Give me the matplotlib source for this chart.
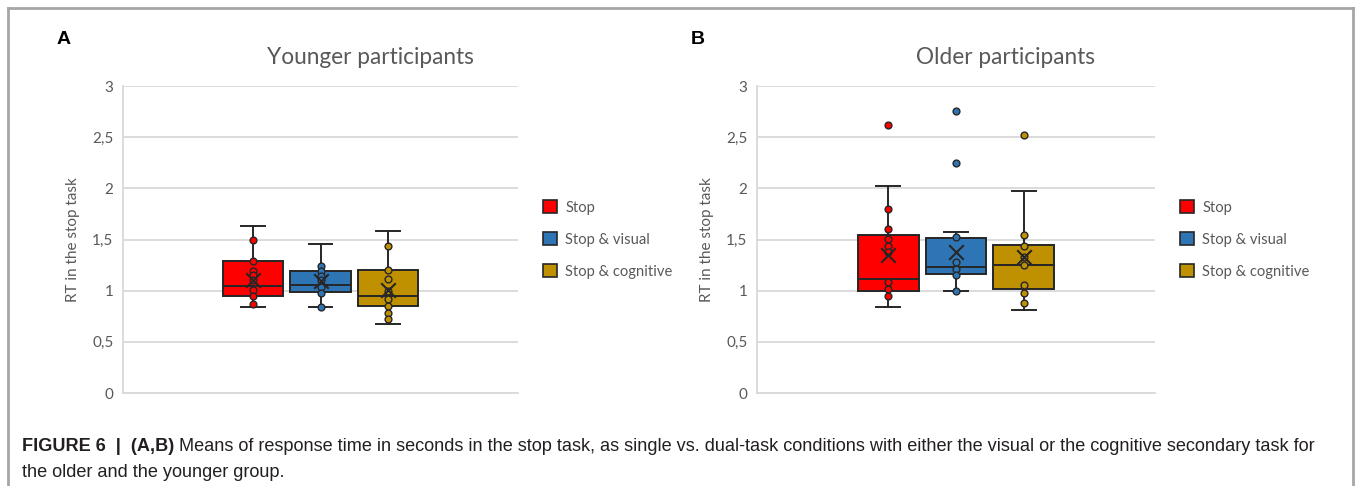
"""
Figure 6: stop-task response times, younger vs older participants.
Excel-style box plots with inner points, mean markers and outliers.
"""
import matplotlib
matplotlib.use("Agg")
import matplotlib.pyplot as plt
from matplotlib.patches import Patch
from matplotlib.lines import Line2D

CONDITIONS = ["Stop", "Stop & visual", "Stop & cognitive"]
COLORS = ["#ff0000", "#2e75b6", "#bf9000"]
Y_TICKS = [0, 0.5, 1, 1.5, 2, 2.5, 3]
Y_TICK_LABELS = ["0", "0,5", "1", "1,5", "2", "2,5", "3"]

# younger participants
young_q1 = [0.945, 0.987, 0.847]
young_med = [1.043, 1.055, 0.948]
young_q3 = [1.29, 1.19, 1.205]
young_lo = [0.84, 0.845, 0.677]
young_hi = [1.63, 1.46, 1.586]
young_mean = [1.10, 1.094, 1.006]
young_points = [
    [1.50, 1.29, 1.19, 1.15, 1.10, 1.01, 0.95, 0.87],
    [1.24, 1.19, 1.14, 1.10, 1.04, 0.98, 0.845],
    [1.44, 1.205, 1.114, 0.997, 0.916, 0.85, 0.785, 0.72],
]
young_outliers = [[], [], []]

# older participants
old_q1 = [0.997, 1.166, 1.019]
old_med = [1.114, 1.231, 1.251]
old_q3 = [1.547, 1.518, 1.45]
old_lo = [0.84, 0.997, 0.814]
old_hi = [2.026, 1.57, 1.97]
old_mean = [1.346, 1.381, 1.332]
old_points = [
    [1.80, 1.60, 1.505, 1.44, 1.375, 1.088, 1.019, 0.948],
    [1.52, 1.277, 1.209, 1.15, 1.0],
    [1.544, 1.436, 1.33, 1.25, 1.058, 0.98, 0.877],
]
old_outliers = [[2.62], [2.76, 2.248], [2.524]]

EDGE = "#262626"
GRID = "#d9d9d9"
TEXT_GRAY = "#595959"
CHART_FONT = ["Lato", "DejaVu Sans"]
CAPTION_FONT = ["Liberation Sans", "DejaVu Sans"]


def draw_panel(ax, q1, med, q3, lo, hi, mean, points, outliers):
    positions = [0.5 - 0.17, 0.5, 0.5 + 0.17]
    stats = []
    for i in range(3):
        stats.append({"med": med[i], "q1": q1[i], "q3": q3[i],
                      "whislo": lo[i], "whishi": hi[i], "mean": mean[i],
                      "fliers": []})
    bp = ax.bxp(stats, positions=positions, widths=0.152, patch_artist=True,
                showmeans=False, showfliers=False, manage_ticks=False,
                boxprops=dict(edgecolor=EDGE, linewidth=1.4),
                medianprops=dict(color=EDGE, linewidth=1.4),
                whiskerprops=dict(color=EDGE, linewidth=1.4),
                capprops=dict(color=EDGE, linewidth=1.4),
                capwidths=0.06)
    for patch, c in zip(bp["boxes"], COLORS):
        patch.set_facecolor(c)
        patch.set_zorder(2)
    for i, x in enumerate(positions):
        pts = points[i] + outliers[i]
        ax.scatter([x] * len(pts), pts, s=24, facecolor=COLORS[i],
                   edgecolor=EDGE, linewidth=1.0, zorder=4)
        ax.scatter([x], [mean[i]], marker="x", s=110, color=EDGE,
                   linewidth=1.5, zorder=5)

    ax.set_xlim(0, 1)
    ax.set_ylim(0, 3)
    ax.set_yticks(Y_TICKS)
    ax.set_yticklabels(Y_TICK_LABELS, family=CHART_FONT, fontsize=11,
                       color=TEXT_GRAY)
    ax.set_xticks([])
    ax.tick_params(axis="y", length=0, pad=7)
    ax.grid(axis="y", color=GRID, linewidth=1.3, zorder=0)
    ax.set_axisbelow(True)
    for side in ["top", "right"]:
        ax.spines[side].set_visible(False)
    for side in ["left", "bottom"]:
        ax.spines[side].set_color(GRID)
        ax.spines[side].set_linewidth(1.3)
    ax.set_ylabel("RT in the stop task", family=CHART_FONT, fontsize=11,
                  color=TEXT_GRAY, labelpad=9)

    handles = [Patch(facecolor=c, edgecolor=EDGE, linewidth=1.2) for c in COLORS]
    ax.legend(handles, CONDITIONS, loc="center left",
              bbox_to_anchor=(1.03, 0.5), frameon=False,
              prop={"family": CHART_FONT, "size": 10.6}, labelcolor=TEXT_GRAY,
              handlelength=0.95, handleheight=0.95, handletextpad=0.55,
              labelspacing=1.2)


fig = plt.figure(figsize=(13.56, 4.86), dpi=100)

ax_a = fig.add_axes([123 / 1356, 1 - 393 / 486, 395 / 1356, 307 / 486])
ax_b = fig.add_axes([757 / 1356, 1 - 393 / 486, 398 / 1356, 307 / 486])

draw_panel(ax_a, young_q1, young_med, young_q3, young_lo, young_hi,
           young_mean, young_points, young_outliers)
draw_panel(ax_b, old_q1, old_med, old_q3, old_lo, old_hi,
           old_mean, old_points, old_outliers)

# titles and panel letters
fig.text(370 / 1356, 1 - 57 / 486, "Younger participants", family=CHART_FONT,
         fontsize=16.3, color=TEXT_GRAY, ha="center", va="center")
fig.text(1006 / 1356, 1 - 57 / 486, "Older participants", family=CHART_FONT,
         fontsize=16.3, color=TEXT_GRAY, ha="center", va="center")
fig.text(57 / 1356, 1 - 40 / 486, "A", family=CAPTION_FONT, fontsize=14,
         fontweight="bold", va="center")
fig.text(691 / 1356, 1 - 40 / 486, "B", family=CAPTION_FONT, fontsize=14,
         fontweight="bold", va="center")

# outer frame
frame_color = "#a6a6a6"
fig.add_artist(Line2D([8 / 1356, 8 / 1356], [0, 1 - 8 / 486], color=frame_color,
                      linewidth=2, transform=fig.transFigure))
fig.add_artist(Line2D([8 / 1356, 1353 / 1356], [1 - 8 / 486, 1 - 8 / 486],
                      color=frame_color, linewidth=2, transform=fig.transFigure))
fig.add_artist(Line2D([1353 / 1356, 1353 / 1356], [0, 1 - 8 / 486],
                      color=frame_color, linewidth=2, transform=fig.transFigure))

# caption
cap_color = "#231f20"
bold_part = fig.text(22 / 1356, 1 - 446 / 486, "FIGURE 6  |  (A,B)",
                     family=CAPTION_FONT, fontsize=13.1, fontweight="bold",
                     color=cap_color, va="center")
fig.canvas.draw()
ext = bold_part.get_window_extent(renderer=fig.canvas.get_renderer())
fig.text((ext.x1 + 5) / 1356, 1 - 446 / 486,
         "Means of response time in seconds in the stop task, as single vs. "
         "dual-task conditions with either the visual or the cognitive secondary task for",
         family=CAPTION_FONT, fontsize=13.1, color=cap_color, va="center")
fig.text(22 / 1356, 1 - 472 / 486, "the older and the younger group.",
         family=CAPTION_FONT, fontsize=13.1, color=cap_color, va="center")

fig.savefig("out.png", dpi=100)
